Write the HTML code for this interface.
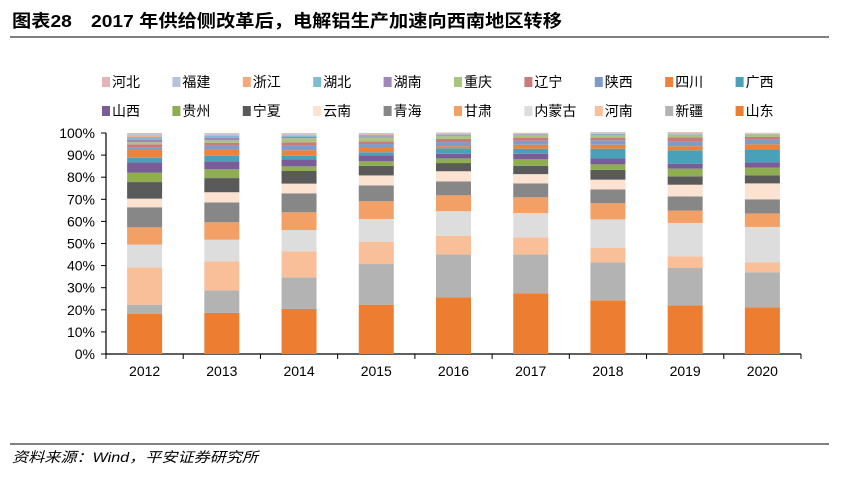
<!DOCTYPE html>
<html><head><meta charset="utf-8"><style>
html,body{margin:0;padding:0;background:#fff;}
body{width:843px;height:477px;overflow:hidden;position:relative;font-family:"Liberation Sans","Noto Sans CJK SC",sans-serif;}
svg text{font-family:"Liberation Sans","Noto Sans CJK SC",sans-serif;}
</style></head><body>
<svg id="chart" width="843" height="477" viewBox="0 0 843 477" xmlns="http://www.w3.org/2000/svg">
<text x="12" y="27" font-size="17.5" font-weight="bold" fill="#000" textLength="550" lengthAdjust="spacingAndGlyphs">图表28　2017 年供给侧改革后，电解铝生产加速向西南地区转移</text>
<line x1="10" y1="37" x2="829" y2="37" stroke="#000" stroke-width="1"/>
<g id="legend"></g>
<g id="axes"></g>
<g id="bars"></g>
<line x1="10" y1="444" x2="829" y2="444" stroke="#000" stroke-width="1"/>
<text x="12" y="462" font-size="14" font-style="italic" fill="#000" textLength="246" lengthAdjust="spacingAndGlyphs">资料来源：Wind，平安证券研究所</text>
</svg>
<script>
const years = ["2012","2013","2014","2015","2016","2017","2018","2019","2020"];
const regions = ["山东","新疆","河南","内蒙古","甘肃","青海","云南","宁夏","贵州","山西","广西","四川","陕西","辽宁","重庆","湖南","湖北","浙江","福建","河北"];
const colors = ["#ED7D31","#B3B3B3","#F8BF98","#DDDDDD","#F3A067","#878787","#FCE2D0","#5A5A5A","#8FAE52","#7A5C99","#48A1B9","#ED8238","#7F9CC9","#C97A7A","#A9C47F","#9E86B9","#7DBDD3","#F5A97A","#B4C4DE","#E2B6B6"];
const s2012 = [18.1,4.2,16.9,10.3,7.8,9.1,3.9,7.5,4.3,4.6,2.1,3.7,1.0,1.4,0.9,1.2,1.3,0.6,0.6,0.5];
const s2013 = [18.6,10.2,13.1,9.8,7.9,9.0,4.6,6.4,4.0,3.6,2.5,2.8,1.8,1.3,1.1,1.2,0.9,0.4,0.5,0.3];
const s2014 = [20.4,14.3,11.8,9.6,8.0,8.6,4.4,5.7,2.1,3.2,1.6,2.5,2.1,1.5,1.8,0.6,0.6,0.4,0.5,0.3];
const s2015 = [22.3,18.4,10.0,10.4,8.0,7.2,4.5,4.3,2.1,2.7,1.4,1.9,1.8,1.2,1.8,0.5,0.6,0.3,0.4,0.2];
const s2016 = [25.6,19.4,8.5,11.1,7.2,6.3,4.6,3.7,2.1,2.1,2.5,0.9,1.9,1.5,1.2,0.3,0.5,0.3,0.3,0.2];
const s2017 = [27.5,17.5,7.8,11.0,7.1,6.3,4.2,3.7,3.0,2.5,2.3,1.8,1.8,1.4,1.3,0.3,0.2,0.2,0.1,0.1];
const s2018 = [24.3,17.2,6.6,12.8,7.3,6.3,4.4,4.4,2.5,2.7,4.4,1.8,2.0,1.2,1.2,0.2,0.3,0.3,0.3,0.2];
const s2019 = [22.0,16.9,5.3,15.1,5.6,6.4,5.3,3.8,3.5,2.2,6.1,1.8,2.1,1.9,1.2,0.2,0.2,0.2,0.2,0.4];
const s2020 = [21.1,15.9,4.5,16.0,6.1,6.4,7.2,3.6,3.5,2.4,5.8,2.4,2.1,1.2,1.2,0.1,0.1,0.1,0.2,0.2];
const series = [s2012,s2013,s2014,s2015,s2016,s2017,s2018,s2019,s2020];
const yTicks = ["0%","10%","20%","30%","40%","50%","60%","70%","80%","90%","100%"];
const legendOrder = ["河北","福建","浙江","湖北","湖南","重庆","辽宁","陕西","四川","广西","山西","贵州","宁夏","云南","青海","甘肃","内蒙古","河南","新疆","山东"];

const NS="http://www.w3.org/2000/svg";
const X0=106, X1=801, Y0=354, Y1=133;
const band=(X1-X0)/years.length;
function xC(i){return X0+band*(i+0.5);}
function yS(v){return Y0-(v/100)*(Y0-Y1);}
function mk(tag,attrs,parent){const e=document.createElementNS(NS,tag);for(const k in attrs)e.setAttribute(k,attrs[k]);parent.appendChild(e);return e;}

const axes=document.getElementById('axes');
yTicks.forEach((t,i)=>{
  const v=i*10,y=yS(v);
  const tk=mk('line',{x1:X0-5,y1:y,x2:X0,y2:y,stroke:'#000','stroke-width':1},axes);
  
  
  const lb=mk('text',{x:X0-11,y:y+5,'font-size':14,'text-anchor':'end',fill:'#000'},axes);
  lb.textContent=t;
  
  
});
const ya=mk('line',{x1:X0,y1:Y1,x2:X0,y2:Y0,stroke:'#000','stroke-width':1.2},axes);



const bars=document.getElementById('bars');
const bw=35;
series.forEach((vals,i)=>{
  let cum=0;
  vals.forEach((v,j)=>{
    const y0=yS(cum),y1=yS(cum+v);cum+=v;
    const r=mk('rect',{x:xC(i)-bw/2,y:y1,width:bw,height:Math.max(0,y0-y1),fill:colors[j]},bars);
    
    
  });
  const lb=mk('text',{x:xC(i),y:Y0+22,'font-size':14,'text-anchor':'middle',fill:'#000'},axes);
  lb.textContent=years[i];
  
  
});
for(let i=0;i<=years.length;i++){
  const x=X0+band*i;
  const tk=mk('line',{x1:x,y1:Y0,x2:x,y2:Y0+5,stroke:'#000','stroke-width':1},axes);
  
  
}
const xa=mk('line',{x1:X0,y1:Y0,x2:X1,y2:Y0,stroke:'#000','stroke-width':1.2},axes);



const leg=document.getElementById('legend');
legendOrder.forEach((name,k)=>{
  const row=Math.floor(k/10),col=k%10;
  const x=102+col*70.4,y=row?111:82;
  const g=mk('g',{},leg);
  
  
  const j=regions.indexOf(name);
  mk('rect',{x:x,y:y-5,width:8,height:10,fill:colors[j]},g);
  const t=mk('text',{x:x+10,y:y+5,'font-size':14,fill:'#000'},g);
  t.textContent=name;
});
</script>
</body></html>
